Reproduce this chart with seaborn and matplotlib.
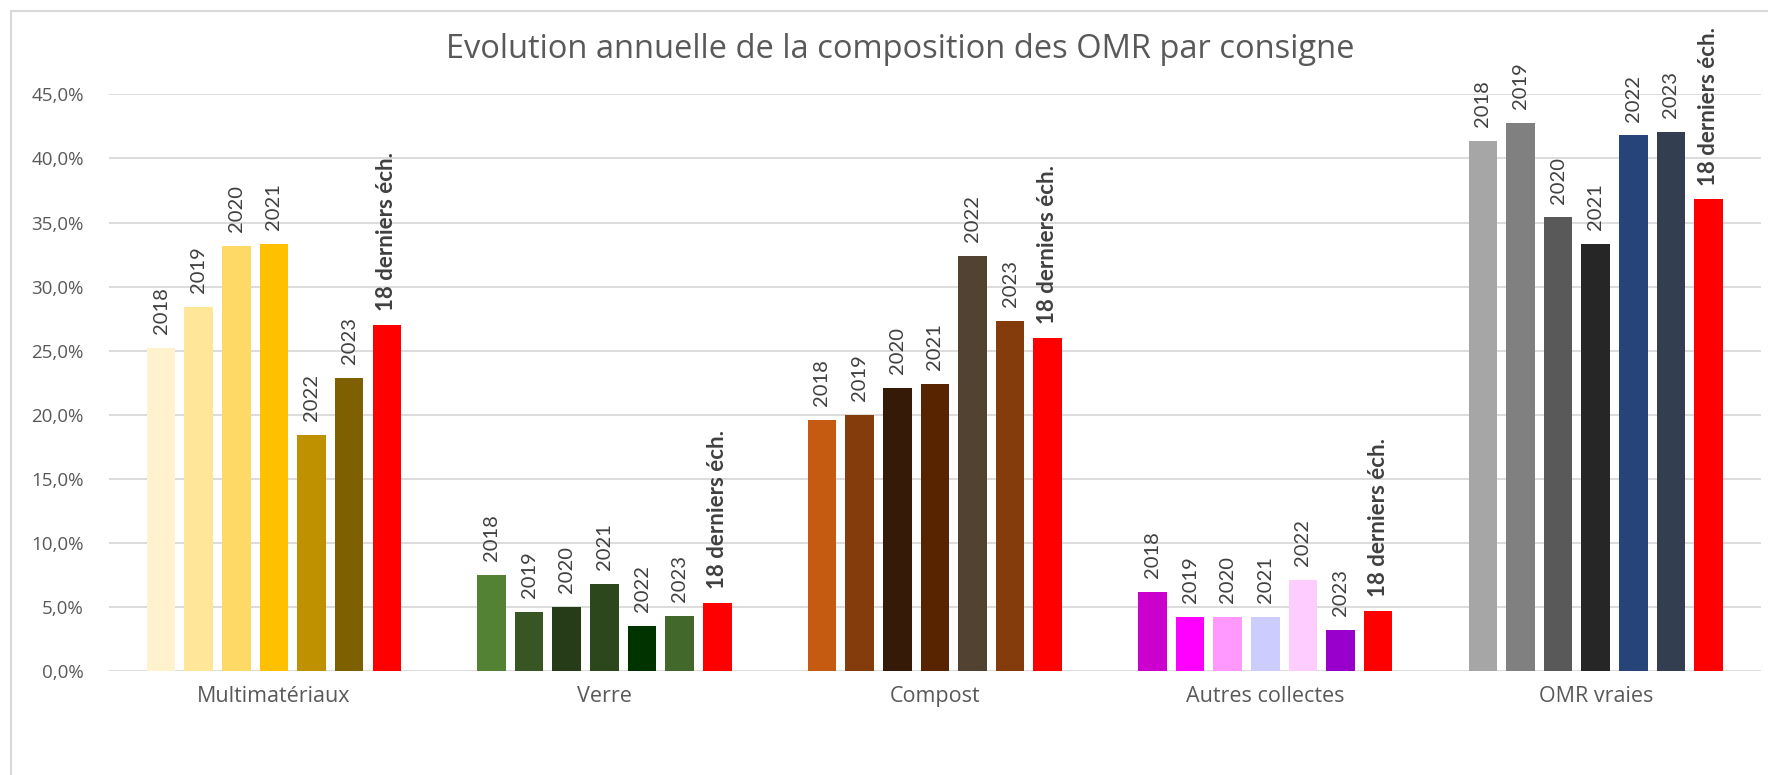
import pandas as pd
import seaborn as sns
import matplotlib.pyplot as plt
from matplotlib.patches import Rectangle
from matplotlib.ticker import FuncFormatter, MultipleLocator

categories = ["Multimatériaux", "Verre", "Compost", "Autres collectes", "OMR vraies"]
periods = ["2018", "2019", "2020", "2021", "2022", "2023", "18 derniers éch."]

multi = [25.2, 28.4, 33.2, 33.3, 18.4, 22.9, 27.0]
verre = [7.5, 4.6, 5.0, 6.8, 3.5, 4.3, 5.3]
compost = [19.6, 20.0, 22.1, 22.4, 32.4, 27.3, 26.0]
autres = [6.2, 4.2, 4.2, 4.2, 7.1, 3.2, 4.7]
omr = [41.4, 42.8, 35.4, 33.3, 41.8, 42.1, 36.8]

colors_multi = ["#FFF2CC", "#FFE699", "#FFD966", "#FFC000", "#BF9000", "#7F6000", "#FF0000"]
colors_verre = ["#548235", "#375623", "#263C18", "#2D471C", "#003300", "#43682B", "#FF0000"]
colors_compost = ["#C55A11", "#843C0C", "#351A08", "#582400", "#524231", "#843C0C", "#FF0000"]
colors_autres = ["#CC00CC", "#FF00FF", "#FF99FF", "#CCCCFF", "#FFCCFF", "#9900CC", "#FF0000"]
colors_omr = ["#A6A6A6", "#808080", "#595959", "#262626", "#264478", "#333F50", "#FF0000"]

series = [multi, verre, compost, autres, omr]
colors = [colors_multi, colors_verre, colors_compost, colors_autres, colors_omr]

rows = []
for cat, vals in zip(categories, series):
    for p, v in zip(periods, vals):
        rows.append({"consigne": cat, "periode": p, "part": v / 100})
df = pd.DataFrame(rows)

sns.set_theme(style="white")
plt.rcParams["font.family"] = ["Open Sans", "DejaVu Sans"]

fig = plt.figure(figsize=(17.68, 7.75), dpi=100)
ax = fig.add_axes([0.0615, 0.1342, 0.9345, 0.744])

sns.barplot(data=df, x="consigne", y="part", hue="periode", order=categories,
            hue_order=periods, width=0.797, gap=0.24, legend=False, ax=ax,
            palette=["#888888"] * 7, saturation=1)

# one container per period, bars in category order -> own colour per bar
for i, cont in enumerate(ax.containers):
    for j, bar in enumerate(cont):
        bar.set_facecolor(colors[j][i])
        bar.set_edgecolor("none")
    bold = periods[i].startswith("18")
    ax.bar_label(cont, labels=[periods[i]] * len(categories), rotation=90,
                 padding=10, fontsize=16 if bold else 14.5, color="#404040",
                 fontweight="bold" if bold else "normal",
                 family=["Liberation Sans Narrow", "Lato", "DejaVu Sans"])

ax.set_ylim(0, 0.45)
ax.yaxis.set_major_locator(MultipleLocator(0.05))
ax.yaxis.set_major_formatter(FuncFormatter(lambda v, _: f"{v*100:.1f}%".replace(".", ",")))
ax.grid(axis="y", color="#D9D9D9", linewidth=1.3)
ax.set_axisbelow(True)
for s in ax.spines.values():
    s.set_visible(False)
ax.set_xlabel("")
ax.set_ylabel("")
ax.tick_params(axis="y", labelsize=13.5, labelcolor="#595959", length=0, pad=18)
ax.tick_params(axis="x", labelsize=15.5, labelcolor="#595959", length=0, pad=11)

fig.text(0.509, 0.936, "Evolution annuelle de la composition des OMR par consigne",
         ha="center", va="center", fontsize=23.5, color="#595959")

fig.add_artist(Rectangle((11 / 1768, -0.1), 1.2, 1.1 - 11 / 775, transform=fig.transFigure,
                         fill=False, edgecolor="#D9D9D9", linewidth=1.5))

fig.savefig("out.png", dpi=100)
